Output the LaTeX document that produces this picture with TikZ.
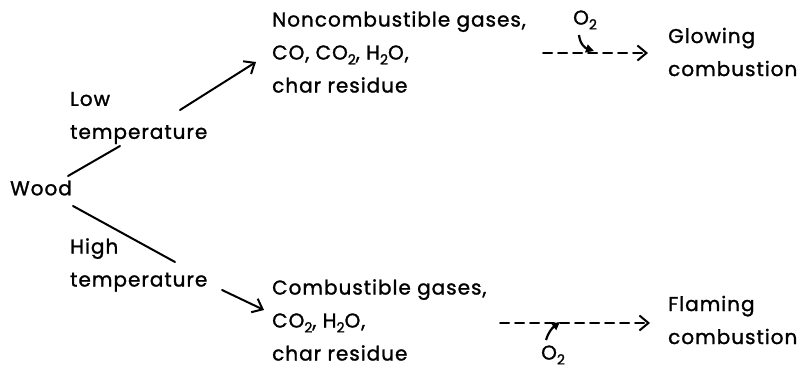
\documentclass[tikz,border=0pt]{standalone}
\usepackage{fontspec}
\setmainfont{Poppins}[LetterSpace=5, FakeBold=1.3]
\usetikzlibrary{arrows.meta}
\newcommand{\sub}[1]{\raisebox{-0.45ex}{\fontsize{14}{14}\selectfont #1}}
\tikzset{
  lbl/.style={font=\fontsize{20}{33}\selectfont, align=left, inner sep=0pt, anchor=west},
  conn/.style={line width=2pt, line cap=round},
  headed/.style={conn, -{Straight Barb[length=9pt, width=15pt, line width=2pt]}},
  dashflow/.style={headed, dash pattern=on 9pt off 6pt},
  oxy/.style={line width=2.2pt, -{Triangle[length=8pt, width=8pt]}},
}
\begin{document}
\begin{tikzpicture}[x=1pt, y=-1pt]
\useasboundingbox (0,0) rectangle (805,371);

% starting material
\node[lbl] (wood) at (10,188) {Wood};

% decomposition conditions
\node[lbl] (low) at (70,118) {Low\\temperature};
\node[lbl] (high) at (70,265) {High\\temperature};

% decomposition products
\node[lbl] (nonc) at (272,52) {Noncombustible gases,\\CO, CO\sub{2}, H\sub{2}O,\\char residue};
\node[lbl] (comb) at (272,320) {Combustible gases,\\CO\sub{2}, H\sub{2}O,\\char residue};

% combustion modes
\node[lbl] (glow) at (668,52) {Glowing\\combustion};
\node[lbl] (flame) at (668,320) {Flaming\\combustion};

% oxygen supply
\node[lbl] (o2a) at (573,20) {O\sub{2}};
\node[lbl] (o2b) at (541,355) {O\sub{2}};

% connector points
\coordinate (w1) at (68,176);
\coordinate (l1) at (120,146);
\coordinate (l2) at (180,110);
\coordinate (n1) at (256,62);
\coordinate (w2) at (73,206);
\coordinate (h1) at (175,262);
\coordinate (h2) at (222,290);
\coordinate (c1) at (264,310);
\coordinate (ga) at (543,53);
\coordinate (gb) at (648,53);
\coordinate (fa) at (500,323);
\coordinate (fb) at (650,323);

% low temperature branch
\draw[conn] (w1) -- (l1);
\draw[headed] (l2) -- (n1);
% high temperature branch
\draw[conn] (w2) -- (h1);
\draw[headed] (h2) -- (c1);

% oxidation steps
\draw[dashflow] (ga) -- (gb);
\draw[dashflow] (fa) -- (fb);
\draw[oxy] (579,35) .. controls (580,44) and (585,48) .. (594,51);
\draw[oxy] (546,340) .. controls (548,333) and (552,328) .. (560,322);
\end{tikzpicture}
\end{document}
